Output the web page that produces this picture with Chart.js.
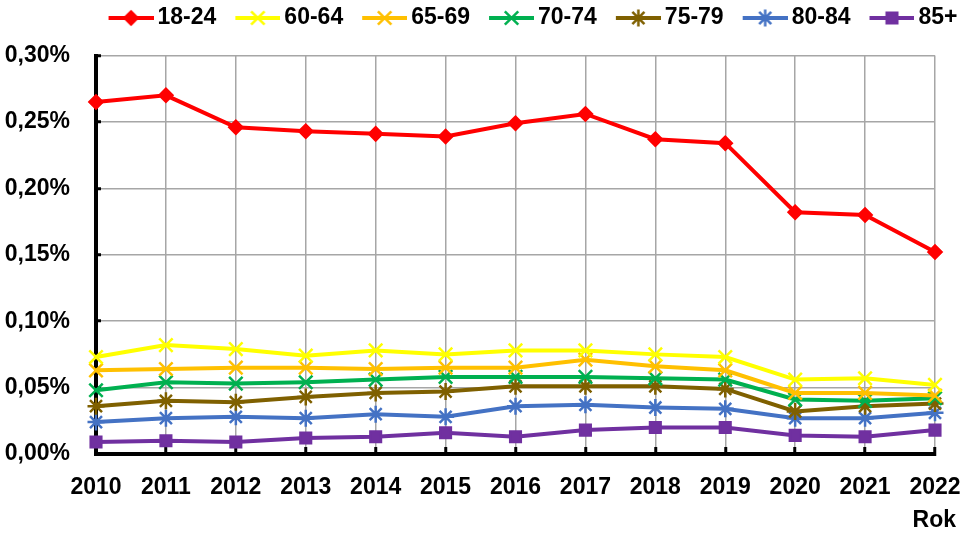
<!DOCTYPE html>
<html>
<head>
<meta charset="utf-8">
<script src="https://cdn.jsdelivr.net/npm/chart.js@4.4.1/dist/chart.umd.min.js"></script>
<style>
  html, body { margin: 0; padding: 0; background: #fff; }
  #wrap { width: 964px; height: 534px; }
</style>
</head>
<body>
<div id="wrap"><canvas id="lineChart"></canvas></div>
<script>
// years on the x axis
const years = ['2010', '2011', '2012', '2013', '2014', '2015', '2016',
               '2017', '2018', '2019', '2020', '2021', '2022'];

// values in percent
const age1824 = [0.265, 0.270, 0.246, 0.243, 0.241, 0.239, 0.249, 0.256, 0.237, 0.234, 0.182, 0.180, 0.152];
const age6064 = [0.073, 0.082, 0.079, 0.074, 0.078, 0.075, 0.078, 0.078, 0.075, 0.073, 0.056, 0.057, 0.052];
const age6569 = [0.063, 0.064, 0.065, 0.065, 0.064, 0.065, 0.065, 0.071, 0.066, 0.063, 0.046, 0.046, 0.044];
const age7074 = [0.048, 0.054, 0.053, 0.054, 0.056, 0.058, 0.058, 0.058, 0.057, 0.056, 0.041, 0.040, 0.042];
const age7579 = [0.036, 0.040, 0.039, 0.043, 0.046, 0.047, 0.051, 0.051, 0.051, 0.049, 0.032, 0.036, 0.038];
const age8084 = [0.024, 0.027, 0.028, 0.027, 0.030, 0.028, 0.036, 0.037, 0.035, 0.034, 0.027, 0.027, 0.031];
const age85   = [0.009, 0.010, 0.009, 0.012, 0.013, 0.016, 0.013, 0.018, 0.020, 0.020, 0.014, 0.013, 0.018];

const seriesNames = ['18-24', '60-64', '65-69', '70-74', '75-79', '80-84', '85+'];
const yTicks = [0, 0.05, 0.10, 0.15, 0.20, 0.25, 0.30];

const FONT = '"Liberation Sans", Arial, sans-serif';
const GRID = '#a6a6a6';

const styles = [
    { color: '#ff0000', marker: 'rectRot',  r: 6.5 },
    { color: '#ffff00', marker: 'crossRot', r: 9.5 },
    { color: '#ffc000', marker: 'crossRot', r: 9.5 },
    { color: '#00b050', marker: 'crossRot', r: 9.5 },
    { color: '#7f6000', marker: 'star',     r: 8.5 },
    { color: '#4472c4', marker: 'star',     r: 8.5 },
    { color: '#7030a0', marker: 'rect',     r: 7.5 }
];

const allData = [age1824, age6064, age6569, age7074, age7579, age8084, age85];

// little canvas for the legend: line + marker
const legendIcon = (st) => {
    const c = document.createElement('canvas');
    c.width = 65;
    c.height = 22;
    const ctx = c.getContext('2d');
    ctx.strokeStyle = st.color;
    ctx.fillStyle = st.color;
    ctx.lineWidth = 4;
    ctx.beginPath();
    ctx.moveTo(20, 11);
    ctx.lineTo(65, 11);
    ctx.stroke();
    ctx.lineWidth = 2.5;
    Chart.helpers.drawPoint(ctx, { pointStyle: st.marker, radius: st.r, borderWidth: 2.5, rotation: 0 }, 42.5, 11);
    return c;
};

const rokLabel = {
    id: 'rokLabel',
    afterDraw(chart) {
        const ctx = chart.ctx;
        ctx.save();
        ctx.font = 'bold 23px ' + FONT;
        ctx.fillStyle = '#000';
        ctx.textAlign = 'right';
        ctx.textBaseline = 'middle';
        ctx.fillText('Rok', 956, 521);
        ctx.restore();
    }
};

const lineChart = document.getElementById('lineChart').getContext('2d');
const lineChartConfig = new Chart(lineChart, {
    type: 'line',
    data: {
        labels: years,
        datasets: allData.map((d, i) => ({
            label: seriesNames[i],
            data: d,
            borderColor: styles[i].color,
            backgroundColor: styles[i].color,
            borderWidth: 4,
            pointStyle: styles[i].marker,
            pointRadius: styles[i].r,
            pointBorderWidth: 2.5,
            pointBackgroundColor: styles[i].color,
            pointBorderColor: styles[i].color,
            tension: 0,
            fill: false
        }))
    },
    plugins: [rokLabel],
    options: {
        responsive: true,
        maintainAspectRatio: false,
        animation: false,
        layout: { padding: { left: 0, right: 0, top: 0, bottom: 0 } },
        plugins: {
            tooltip: { enabled: false },
            title: { display: true, text: ' ', padding: 0, weight: 500, font: { size: 16, lineHeight: 1 } },
            legend: {
                position: 'top',
                align: 'end',
                weight: 3000,
                labels: {
                    usePointStyle: true,
                    pointStyleWidth: 50,
                    padding: 6.5,
                    color: '#000',
                    font: { family: FONT, size: 23, weight: 'bold' },
                    generateLabels: (chart) => chart.data.datasets.map((ds, i) => ({
                        text: ds.label,
                        pointStyle: legendIcon(styles[i]),
                        fillStyle: styles[i].color,
                        strokeStyle: styles[i].color,
                        lineWidth: 0,
                        hidden: false,
                        datasetIndex: i
                    }))
                }
            }
        },
        scales: {
            x: {
                grid: { color: GRID, lineWidth: 1.5, tickLength: -7, tickColor: '#000', tickWidth: 3 },
                border: { color: '#000', width: 4 },
                ticks: { color: '#000', padding: 27, maxRotation: 0, font: { family: FONT, size: 23, weight: 'bold' } },
                afterFit: (s) => { s.height = 80; s.paddingRight = 29; s.paddingLeft = 0; }
            },
            y: {
                min: 0,
                max: 0.30,
                afterBuildTicks: (s) => { s.ticks = yTicks.map(v => ({ value: v })); },
                grid: { color: GRID, lineWidth: 1.5, tickLength: -5, tickColor: '#000', tickWidth: 3 },
                border: { color: '#000', width: 4 },
                ticks: {
                    color: '#000',
                    padding: 31,
                    font: { family: FONT, size: 23, weight: 'bold' },
                    callback: (v) => v.toFixed(2).replace('.', ',') + '%'
                },
                afterFit: (s) => { s.width = 96; }
            }
        }
    }
});
</script>
</body>
</html>
